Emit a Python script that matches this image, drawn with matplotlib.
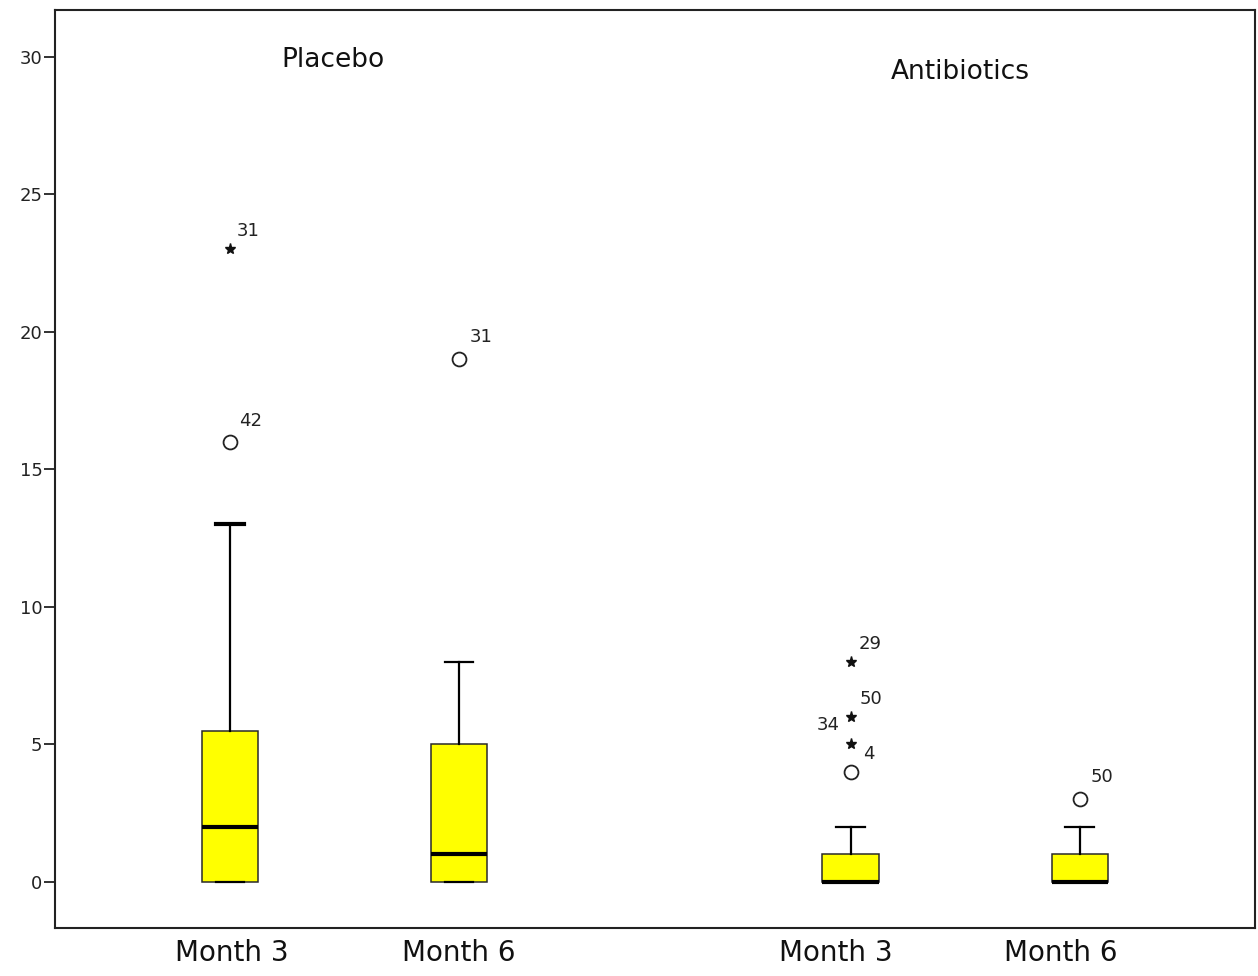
import matplotlib
matplotlib.use("Agg")
import matplotlib.pyplot as plt

# box statistics
groups = ["Placebo", "Placebo", "Antibiotics", "Antibiotics"]
months = ["Month 3", "Month 6", "Month 3", "Month 6"]
q1 = [0, 0, 0, 0]
med = [2, 1, 0, 0]
q3 = [5.5, 5, 1, 1]
whis_lo = [0, 0, 0, 0]
whis_hi = [13, 8, 2, 2]

# outliers: (box index, value, case label, kind)
out_box = [0, 0, 1, 2, 2, 2, 2, 3]
out_val = [23, 16, 19, 8, 6, 5, 4, 3]
out_lab = ["31", "42", "31", "29", "50", "34", "4", "50"]
out_kind = ["extreme", "outlier", "outlier", "extreme", "extreme", "extreme", "outlier", "outlier"]
# label offsets in pixels (dx, dy)
out_off = [(18, 18), (21, 21), (22, 22), (20, 18), (20, 18), (-22, 19), (18, 18), (22, 22)]

positions = [1, 2, 3.71, 4.71]

fig = plt.figure(figsize=(12.58, 9.76), dpi=100)
ax = fig.add_axes([0.0437, 0.0492, 0.9539, 0.9406])

stats = []
for i in range(4):
    stats.append({"med": med[i], "q1": q1[i], "q3": q3[i],
                  "whislo": whis_lo[i], "whishi": whis_hi[i], "fliers": []})

bp = ax.bxp(stats, positions=positions, widths=0.245, capwidths=0.125,
            patch_artist=True, showfliers=False,
            boxprops=dict(facecolor="#ffff00", edgecolor="#2a2a2a", linewidth=1.1),
            medianprops=dict(color="black", linewidth=3),
            whiskerprops=dict(color="black", linewidth=1.6),
            capprops=dict(color="black", linewidth=1.6))
bp["caps"][1].set_linewidth(3)

for b, v, lab, kind, off in zip(out_box, out_val, out_lab, out_kind, out_off):
    x = positions[b]
    if kind == "extreme":
        ax.plot(x, v, marker="*", color="#111111", markersize=8, linestyle="none")
    else:
        ax.plot(x, v, marker="o", markerfacecolor="white", markeredgecolor="#222222",
                markeredgewidth=1.3, markersize=10, linestyle="none")
    ax.annotate(lab, (x, v), xytext=(off[0] * 0.72, off[1] * 0.72),
                textcoords="offset points", ha="center", va="center",
                fontsize=13, color="#222222")

ax.text(1.45, 29.9, "Placebo", fontsize=19, ha="center", va="center", color="#111111")
ax.text(4.19, 29.45, "Antibiotics", fontsize=19, ha="center", va="center", color="#111111")

ax.set_xlim(0.236, 5.476)
ax.set_ylim(-1.673, 31.71)
ax.set_yticks([0, 5, 10, 15, 20, 25, 30])
ax.tick_params(axis="y", length=8, width=1.3, pad=1, labelsize=13, colors="#222222")
ax.set_xticks([1.01, 2.0, 3.645, 4.63])
ax.set_xticklabels(months, fontsize=20, color="#111111")
ax.tick_params(axis="x", length=0, pad=8)
for s in ax.spines.values():
    s.set_linewidth(1.5)
    s.set_color("#222222")

fig.savefig("out.png", dpi=100)
